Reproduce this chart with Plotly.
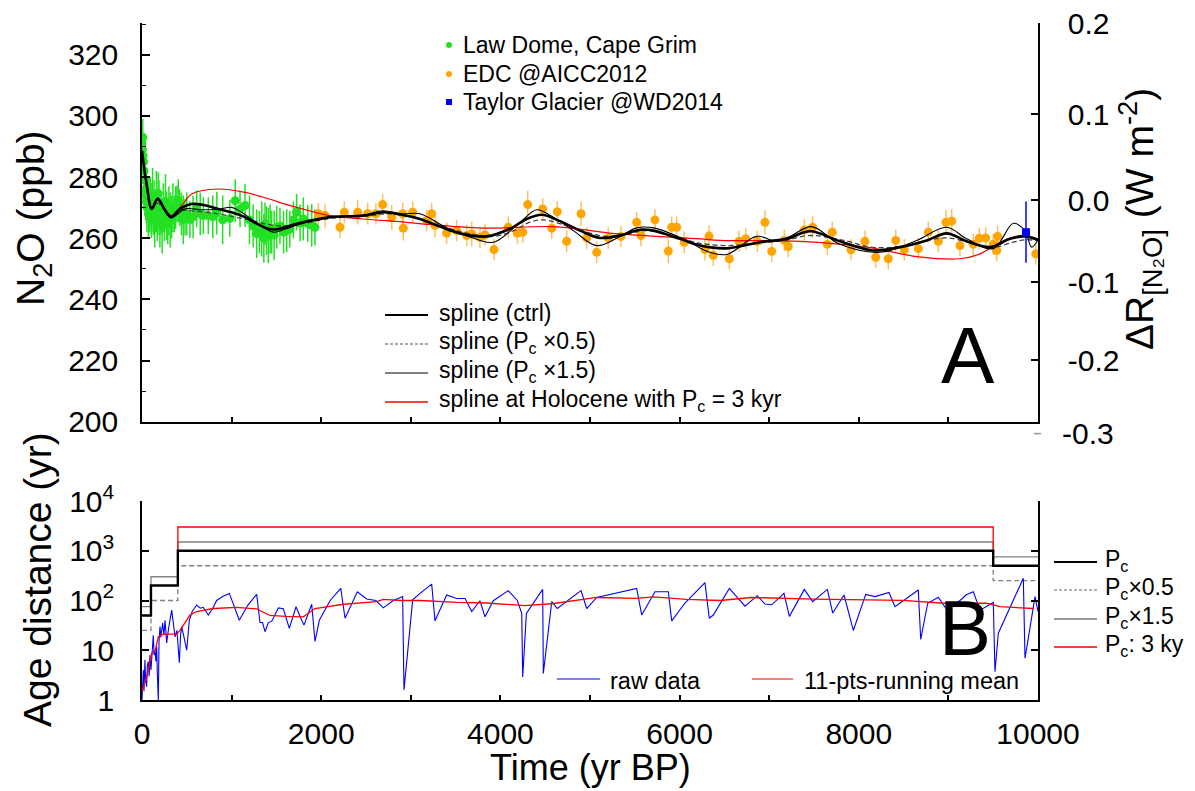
import numpy as np
import plotly.graph_objects as go

# ---------------- data: panel A (N2O, ppb) ----------------
law_yr = [0, 4, 8, 12, 18, 24, 30, 36, 42, 48, 55, 62, 70, 78, 86, 94, 102, 110, 118, 126,
          134, 142, 150, 160, 170, 180, 190, 200, 212, 225, 238, 250, 262, 275, 288, 300, 315,
          330, 345, 360, 375, 390, 405, 420, 440, 460, 480, 500, 535, 570, 610, 650, 685, 740,
          790, 835, 900, 980, 1040, 1094, 1150, 1200, 1240, 1280, 1310, 1336, 1360, 1373, 1390,
          1410, 1430, 1447, 1475, 1503, 1540, 1580, 1615, 1650, 1690, 1726, 1765, 1800, 1850,
          1894, 1930]
law_ppb = [291, 289, 293, 287, 285, 282, 279, 276, 274, 272, 270, 273, 268, 271, 269, 272, 267,
           270, 274, 268, 271, 266, 269, 272, 267, 274.6, 270, 265, 268, 264, 270, 266, 272,
           267.4, 265, 269, 266, 266.9, 270, 268, 270, 271.2, 272.3, 270, 268, 266, 266.9, 268,
           266.1, 267, 269.6, 268, 267.4, 267.4, 267, 268.2, 266, 266.5, 272.3, 269.6, 270.7,
           266, 264, 261.5, 262, 263, 260, 264.7, 262.5, 260.9, 263, 262, 261, 263.6, 264, 262,
           262.5, 263, 266, 268.5, 265, 266.3, 264.8, 264.2, 263.6]
law_err = [6, 5, 6, 5, 6, 7, 6, 7, 8, 7, 8, 7, 8, 9, 7, 8, 7, 8, 9, 7, 8, 9, 7, 10, 8, 7, 9, 8,
           7, 9, 8, 7, 9, 8, 7, 8, 9, 7, 8, 6, 7, 6, 7, 6, 7, 8, 6, 7, 6, 7, 6, 7, 6, 6, 7, 7,
           8, 6, 7, 6, 7, 8, 7, 8, 7, 9, 8, 7, 8, 9, 8, 7, 8, 7, 6, 7, 7, 6, 6, 6, 6, 7, 6, 7, 6]

edc_yr = [1968, 2043, 2210, 2258, 2407, 2519, 2611, 2686, 2787, 2909, 2916, 3021, 3177, 3233,
          3270, 3400, 3512, 3624, 3680, 3772, 3828, 3929, 4088, 4189, 4249, 4305, 4472, 4573,
          4635, 4740, 4900, 4963, 5075, 5204, 5346, 5521, 5569, 5725, 5874, 5912, 5967, 6052,
          6283, 6328, 6376, 6555, 6663, 6738, 6867, 6953, 7028, 7169, 7213, 7392, 7485, 7649,
          7704, 7913, 8069, 8189, 8329, 8412, 8508, 8665, 8776, 8888, 8973, 9037, 9129, 9278,
          9345, 9416, 9501, 9539, 9550, 9975]
edc_ppb = [268.0, 267.4, 263.6, 268.5, 268.5, 268.0, 268.0, 271.0, 266.9, 268.0, 263.3, 268.5,
           265.8, 268.0, 264.2, 261.7, 262.5, 260.9, 261.4, 260.3, 261.1, 256.3, 263.6, 261.7,
           262.0, 271.0, 269.6, 263.3, 268.7, 259.0, 268.0, 260.1, 255.4, 260.1, 260.6, 265.2,
           260.9, 266.0, 255.8, 263.6, 263.6, 258.7, 256.3, 260.7, 254.4, 253.3, 259.0, 259.8,
           259.0, 265.2, 255.7, 259.3, 257.3, 262.7, 263.6, 258.0, 262.0, 256.2, 259.0, 253.8,
           253.3, 259.3, 256.2, 256.6, 262.0, 259.0, 265.2, 265.6, 257.6, 258.0, 260.0, 260.1,
           258.0, 256.0, 260.6, 254.9]
edc_err = [3.5, 4, 3.5, 3.5, 4, 3.5, 3.5, 3.5, 4, 3.5, 4, 3.5, 3.5, 3.5, 4, 3.5, 3.5, 3.5, 4,
           3.5, 3.5, 3.5, 3.5, 3.5, 3.5, 4.5, 3.5, 3.5, 3.5, 3.5, 4, 3.5, 3.5, 3.5, 3.5, 3.5,
           3.5, 3.5, 4, 3.5, 3.5, 3.5, 3.5, 3.5, 3.5, 3.5, 3.5, 3.5, 3.5, 4, 3.5, 3.5, 3.5,
           3.5, 3.5, 3.5, 3.5, 3.5, 3.5, 3.5, 3.5, 3.5, 3.5, 3.5, 3.5, 3.5, 4, 4, 3.5, 3.5,
           3.5, 3.5, 3.5, 3.5, 3.5, 3.5]

taylor_yr = [9866]
taylor_ppb = [262.0]
taylor_err = [10.0]

# smoothing splines (yr BP, ppb)
ctrl_yr = [0, 50, 110, 175, 250, 325, 420, 555, 700, 850, 1000, 1150, 1280, 1400, 1503, 1726,
           2098, 2466, 2690, 2900, 3103, 3326, 3549, 3847, 4107, 4293, 4461, 4665, 4888, 5112,
           5335, 5558, 5707, 6004, 6228, 6525, 6897, 7195, 7455, 7790, 8162, 8460, 8758, 8981,
           9204, 9464, 9688, 9855, 10000]
ctrl_ppb = [288.6, 278, 269.6, 272.9, 269.5, 266.9, 269.5, 271.2, 270.8, 269.6, 268.5, 266.9,
            264.8, 263.2, 262.9, 264.7, 266.9, 267.4, 268.5, 267.7, 266.3, 263.8, 261.6, 260.6,
            263.1, 266.3, 267.7, 265.6, 262.5, 260.1, 260.9, 262.8, 262.5, 259.8, 257.6, 256.7,
            258.7, 259.8, 262.3, 259.0, 256.0, 257.1, 259.3, 261.6, 259.0, 257.1, 259.8, 260.6,
            259.5]

half_yr = [0, 50, 110, 175, 325, 405, 600, 850, 1038, 1200, 1373, 1550, 1800, 2098, 2500, 2750,
           3103, 3400, 3650, 3921, 4150, 4330, 4479, 4700, 4963, 5186, 5400, 5633, 5900, 6200,
           6525, 6900, 7200, 7455, 7800, 8162, 8500, 8800, 8981, 9250, 9464, 9700, 9855, 10000]
half_ppb = [288.6, 277, 270, 271.5, 267.5, 269, 268.8, 268, 266.9, 266, 264.7, 264, 264.8,
            266.5, 267.2, 268, 266.3, 263.5, 261.5, 260.6, 262.5, 265.3, 266, 264.5, 262, 260.6,
            261.3, 262.5, 261, 258.5, 257.6, 258.5, 259.5, 260.9, 259.5, 257, 257.5, 259.5,
            260.1, 258.5, 256.8, 258.5, 259.5, 259.2]

onehalf_yr = [0, 50, 100, 175, 250, 325, 480, 666, 850, 1000, 1112, 1298, 1466, 1600, 1800,
              2098, 2466, 2690, 2900, 3103, 3400, 3650, 3921, 4219, 4405, 4554, 4814, 5075, 5335,
              5521, 5707, 6079, 6300, 6525, 6860, 7083, 7232, 7474, 7790, 8237, 8646, 8981, 9204,
              9501, 9725, 9855, 9929, 10000]
onehalf_ppb = [288.6, 277.5, 269.6, 273.2, 269.5, 266.7, 269.6, 269.3, 269.5, 270.1, 268.5,
               264.7, 262, 263, 265, 267, 267.5, 269, 268, 268, 263.4, 260.5, 258.7, 265.2,
               269.3, 267.5, 262.5, 257.6, 260.6, 263.4, 263.4, 259.3, 255.8, 254.7, 260.6, 259.0,
               260.6, 263.8, 258.0, 255.4, 259.3, 263.6, 259.8, 256.6, 264.9, 262.4, 257.1, 259.5]

holo_yr = [0, 50, 110, 175, 325, 450, 555, 850, 1150, 1354, 1726, 2098, 2466, 2843, 3214, 3847,
           4590, 5335, 6228, 6451, 7344, 8088, 8646, 9129, 9353, 9576, 9799, 10000]
holo_ppb = [288.6, 278, 269.6, 272.5, 267.5, 271, 274.5, 276.1, 275, 273.4, 270.1, 267.4, 266.3,
            265.5, 264.5, 263.3, 263.8, 261.4, 259.8, 259.3, 259, 257.1, 254, 253.3, 254.9,
            258.7, 260.9, 259.8]

# radiative forcing axis labels (W m-2)
dr_ticks = [0.2, 0.1, 0.0, -0.1, -0.2]
dr_labels = ["0.2", "0.1", "0.0", "-0.1", "-0.2"]
N2O_REF = 272.4
ALPHA = 0.12

# ---------------- data: panel B (age distance, yr) ----------------
raw_yr = [0, 8, 15, 22, 33, 40, 52, 60, 71, 80, 89, 100, 115, 126, 135, 145, 155, 164, 172,
          182, 190, 201, 210, 219, 230, 245, 257, 266, 275, 300, 331, 350, 368, 390, 405, 417,
          430, 443, 470, 499, 528, 560, 610, 650, 684, 740, 790, 833, 900, 975, 1086, 1180,
          1280, 1317, 1345, 1373, 1410, 1447, 1522, 1577, 1644, 1719, 1770, 1808, 1894, 1931,
          1979, 2100, 2218, 2266, 2403, 2507, 2611, 2693, 2805, 2909, 2924, 3021, 3103, 3233,
          3270, 3400, 3512, 3605, 3680, 3772, 3828, 3921, 4088, 4189, 4238, 4249, 4290, 4472,
          4479, 4573, 4635, 4900, 4963, 5075, 5521, 5577, 5725, 5874, 5912, 6060, 6283, 6331,
          6376, 6451, 6555, 6730, 6867, 6953, 7028, 7165, 7225, 7392, 7485, 7649, 7709, 7835,
          7939, 8077, 8181, 8337, 8404, 8664, 8691, 8769, 8887, 8973, 9046, 9130, 9200, 9278,
          9353, 9427, 9501, 9520, 9557, 9836, 9855, 9967, 10000]
raw_dist = [1.0, 3.0, 4.0, 1.5, 6.4, 2.5, 1.85, 5, 5.9, 3, 8, 4, 12, 20, 8, 10, 6, 11.8, 3,
            1.0, 15, 30, 18, 23, 35, 20, 40, 25, 14, 30, 64, 35, 18.7, 25, 12.8, 5.6, 20, 30,
            18, 10, 40, 60, 81, 70, 73, 51, 70, 100, 120, 139, 40, 80, 133, 36, 36, 23.6, 36,
            38, 71, 68, 27.5, 75, 45, 32, 84, 15, 40, 100, 176, 44, 150, 107, 100, 71, 100, 120,
            1.6, 103, 139, 214, 39, 129, 110, 110, 60, 99, 47, 99, 158, 100, 55, 2.9, 55, 167,
            3.4, 95, 69, 158, 69, 115, 175, 51, 150, 150, 39, 89, 229, 44, 51, 88, 175, 77, 125,
            85, 82, 139, 48, 167, 95, 167, 56, 129, 25, 133, 120, 145, 75, 163, 16.5, 88, 116,
            69, 82, 100, 130, 150, 64, 75, 91, 3.7, 22, 280, 6.9, 120, 60]

mean_yr = [0, 52, 108, 145, 182, 238, 387, 424, 535, 610, 796, 1057, 1280, 1428, 1600, 1800,
           1931, 2247, 2620, 2693, 2900, 3103, 3512, 3847, 4270, 4600, 5075, 5521, 5707, 6079,
           6451, 6800, 7500, 8481, 8959, 9427, 9576, 9950]
mean_dist = [1.5, 2.9, 8.7, 9.4, 18.7, 21, 21, 25, 51, 60, 69, 73, 68, 50, 48, 47, 69, 84, 95,
             105, 100, 100, 92, 89, 79, 87, 115, 110, 118, 105, 100, 115, 107, 101, 88, 88, 75, 69]

# cut-off periods used for the spline (step functions)
pc_yr = [0, 100, 400, 9500, 10000]
pc_ctrl = [50, 200, 1000, 500, 500]
pc_half = [25, 100, 500, 250, 250]
pc_onehalf = [75, 300, 1500, 750, 750]
pc3k_yr = [400, 400, 9500, 9500]
pc3k = [1000, 3000, 3000, 1000]

# ---------------- styling ----------------
FONT = "Liberation Sans, Arial, sans-serif"
GREEN = "#22e022"
ORANGE = "#ffa500"
W, H = 1195, 791
L, R, T, B = 142, 157, 23, 91
PW, PH = W - L - R, H - T - B
PPB_RANGE = [200, 330.4]


def px(x):
    return (x - L) / PW


def py(y):
    return (H - B - y) / PH


fig = go.Figure()

# panel A: measurements
fig.add_trace(go.Scatter(
    x=law_yr, y=law_ppb, mode="markers", xaxis="x", yaxis="y",
    marker=dict(color=GREEN, size=9),
    error_y=dict(type="data", array=law_err, color=GREEN, thickness=1.5, width=0),
    showlegend=False))
fig.add_trace(go.Scatter(
    x=edc_yr, y=edc_ppb, mode="markers", xaxis="x", yaxis="y",
    marker=dict(color=ORANGE, size=9),
    error_y=dict(type="data", array=edc_err, color="rgba(255,170,40,0.75)", thickness=1.5, width=0),
    showlegend=False))

# panel A: splines
fig.add_trace(go.Scatter(x=holo_yr, y=holo_ppb, mode="lines", xaxis="x", yaxis="y",
                         line=dict(color="red", width=1.2, shape="spline", smoothing=1),
                         showlegend=False))
fig.add_trace(go.Scatter(x=half_yr, y=half_ppb, mode="lines", xaxis="x", yaxis="y",
                         line=dict(color="#444444", width=1.3, dash="5px,3px", shape="spline",
                                   smoothing=1), showlegend=False))
fig.add_trace(go.Scatter(x=onehalf_yr, y=onehalf_ppb, mode="lines", xaxis="x", yaxis="y",
                         line=dict(color="black", width=1.1, shape="spline", smoothing=1),
                         showlegend=False))
fig.add_trace(go.Scatter(x=ctrl_yr, y=ctrl_ppb, mode="lines", xaxis="x", yaxis="y",
                         line=dict(color="black", width=2.6, shape="spline", smoothing=1),
                         showlegend=False))

fig.add_trace(go.Scatter(
    x=taylor_yr, y=taylor_ppb, mode="markers", xaxis="x", yaxis="y",
    marker=dict(color="#0000ee", size=8, symbol="square"),
    error_y=dict(type="data", array=taylor_err, color="#0000ff", thickness=1.5, width=0),
    showlegend=False))

# the forcing axis shares the ppb scale; an invisible copy of the control spline anchors it
fig.add_trace(go.Scatter(x=ctrl_yr, y=ctrl_ppb, mode="lines", xaxis="x", yaxis="y3",
                         line=dict(color="rgba(0,0,0,0)", width=0), hoverinfo="skip",
                         showlegend=False))

# panel B: cut-off periods
fig.add_trace(go.Scatter(x=pc_yr, y=pc_half, mode="lines", xaxis="x2", yaxis="y2",
                         line=dict(color="#808080", width=1.3, dash="5px,3px", shape="hv"),
                         showlegend=False))
fig.add_trace(go.Scatter(x=pc_yr, y=pc_onehalf, mode="lines", xaxis="x2", yaxis="y2",
                         line=dict(color="#808080", width=1.3, shape="hv"), showlegend=False))
fig.add_trace(go.Scatter(x=pc3k_yr, y=pc3k, mode="lines", xaxis="x2", yaxis="y2",
                         line=dict(color="red", width=1.3), showlegend=False))
fig.add_trace(go.Scatter(x=pc_yr, y=pc_ctrl, mode="lines", xaxis="x2", yaxis="y2",
                         line=dict(color="black", width=2.4, shape="hv"), showlegend=False))

# panel B: age distances
fig.add_trace(go.Scatter(x=raw_yr, y=raw_dist, mode="lines", xaxis="x2", yaxis="y2",
                         line=dict(color="#0000ff", width=1.1), showlegend=False))
fig.add_trace(go.Scatter(x=mean_yr, y=mean_dist, mode="lines", xaxis="x2", yaxis="y2",
                         line=dict(color="red", width=1.3), showlegend=False))

# ---------------- axes ----------------
tick_font = dict(family=FONT, size=30, color="black")
axis_common = dict(showgrid=False, zeroline=False, showline=True, linecolor="black",
                   linewidth=1.5, ticks="inside", tickcolor="black", tickwidth=1.5,
                   automargin=False)

dr_vals = [(d / ALPHA + np.sqrt(N2O_REF)) ** 2 for d in dr_ticks]

fig.update_layout(
    width=W, height=H,
    margin=dict(l=L, r=R, t=T, b=B, autoexpand=False),
    paper_bgcolor="white", plot_bgcolor="rgba(0,0,0,0)",
    font=dict(family=FONT, color="black"),
    xaxis=dict(domain=[0, 1], anchor="y", range=[0, 10000], tickvals=list(range(0, 10001, 1000)),
               showticklabels=False, ticklen=5, **axis_common),
    yaxis=dict(domain=[(700 - 421.7) / PH, 1], anchor="x", range=PPB_RANGE,
               tickvals=[200, 220, 240, 260, 280, 300, 320], ticklen=8, tickfont=tick_font,
               ticklabelstandoff=16,
               minor=dict(ticks="inside", ticklen=4, tickcolor="black", tickwidth=1.2,
                          tick0=200, dtick=10),
               **axis_common),
    yaxis3=dict(overlaying="y", anchor="x", side="right", range=PPB_RANGE,
                tickvals=dr_vals, ticktext=dr_labels, ticklen=7, tickfont=tick_font,
                ticklabelstandoff=22, **axis_common),
    xaxis2=dict(domain=[0, 1], anchor="y2", range=[0, 10000],
                tickvals=list(range(0, 10001, 1000)),
                ticktext=[str(v) if v % 2000 == 0 else "" for v in range(0, 10001, 1000)],
                ticklen=5, tickfont=dict(family=FONT, size=30, color="black"),
                ticklabelstandoff=6, **axis_common),
    yaxis2=dict(domain=[0, (700 - 501) / PH], anchor="x2", type="log", range=[0, 4],
                tickvals=[1, 10, 100, 1000, 10000],
                ticktext=["1", "10", "10<sup>2</sup>", "10<sup>3</sup>", "10<sup>4</sup>"],
                ticklen=7, tickfont=tick_font, ticklabelstandoff=20, mirror="ticks",
                **axis_common),
)

annotations = []
shapes = []


def text(x, y, s, size, anchor="left", angle=0, color="black"):
    annotations.append(dict(x=px(x), y=py(y), xref="paper", yref="paper", text=s,
                            showarrow=False, xanchor=anchor, yanchor="middle", borderpad=0,
                            textangle=angle, font=dict(family=FONT, size=size, color=color)))


def seg(x0, x1, y, color, width, dash="solid"):
    shapes.append(dict(type="line", xref="paper", yref="paper", x0=px(x0), x1=px(x1),
                       y0=py(y), y1=py(y), line=dict(color=color, width=width, dash=dash)))


# axis titles
text(33, 218, "N<sub>2</sub>O (ppb)", 39, anchor="center", angle=-90)
text(37, 580, "Age distance (yr)", 39, anchor="center", angle=-90)
text(590, 767, "Time (yr BP)", 36, anchor="center")
text(1140, 219, "ΔR<sub>[N₂O]</sub> (W m<sup>-2</sup>)", 39, anchor="center", angle=-90)

# forcing tick just below the axis frame
text(1061, 433.6, "-0.3", 30)
shapes.append(dict(type="line", xref="paper", yref="paper", x0=px(1034), x1=px(1041),
                   y0=py(433.6), y1=py(433.6), line=dict(color="#999999", width=1.5)))

# panel letters
text(968, 355, "A", 80, anchor="center")
text(965, 628, "B", 78, anchor="center")

# dataset key
for yy, col, sym, lab in [(45, GREEN, "circle", "Law Dome, Cape Grim"),
                          (74, ORANGE, "circle", "EDC @AICC2012"),
                          (102, "#0000ee", "square", "Taylor Glacier @WD2014")]:
    shapes.append(dict(type="circle" if sym == "circle" else "rect", xref="paper", yref="paper",
                       x0=px(446), x1=px(452), y0=py(yy + 3), y1=py(yy - 3),
                       fillcolor=col, line=dict(color=col, width=0)))
    text(462, yy, lab, 23)

# spline key
for yy, col, wd, ds, lab in [
        (315, "black", 2.2, "solid", "spline (ctrl)"),
        (344, "#555555", 1.2, "3px,2px", "spline (P<sub>c</sub> ×0.5)"),
        (373, "black", 1.2, "solid", "spline (P<sub>c</sub> ×1.5)"),
        (402, "#ff0000", 1.6, "solid", "spline at Holocene with P<sub>c</sub> = 3 kyr")]:
    seg(385, 428, yy, col, wd, ds)
    text(438, yy - 2, lab, 23)

# cut-off period key
for yy, col, wd, ds, lab in [
        (562, "black", 2.2, "solid", "P<sub>c</sub>"),
        (590, "#666666", 1.2, "3px,2px", "P<sub>c</sub>×0.5"),
        (619, "#777777", 1.3, "solid", "P<sub>c</sub>×1.5"),
        (647, "#ff0000", 1.4, "solid", "P<sub>c</sub>: 3 ky")]:
    seg(1054, 1097, yy, col, wd, ds)
    text(1104, yy - 2, lab, 23)

# age-distance key
seg(557, 600, 679, "#0000ff", 1.2)
text(609, 681, "raw data", 23.5)
seg(752, 793, 679, "#ff0000", 1.2)
text(803, 681, "11-pts-running mean", 23.5)

fig.update_layout(annotations=annotations, shapes=shapes)
fig.write_html("out.html")
